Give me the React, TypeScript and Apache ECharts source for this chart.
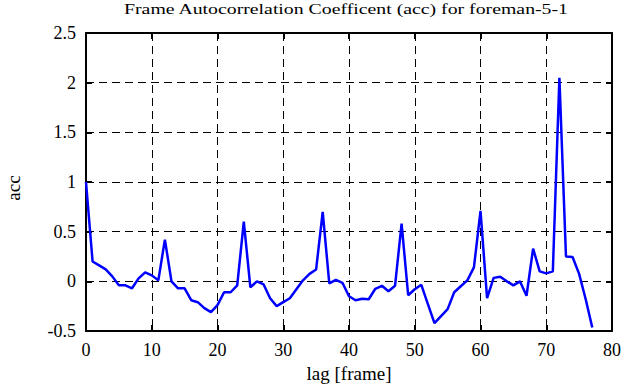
import React, { useEffect, useRef } from "react";
import * as echarts from "echarts";

const titleText = "Frame Autocorrelation Coefficent (acc) for foreman-5-1";
const xAxisName = "lag [frame]";
const yAxisName = "acc";
const xTicks = { min: 0, max: 80, interval: 10 };
const yTicks = { min: -0.5, max: 2.5, interval: 0.5 };

const lags: number[] = [
  0, 1, 2, 3, 4, 5, 6, 7, 8, 9, 10, 11, 12, 13, 14, 15, 16, 17, 18, 19,
  20, 21, 22, 23, 24, 25, 26, 27, 28, 29, 30, 31, 32, 33, 34, 35, 36, 37, 38, 39,
  40, 41, 42, 43, 44, 45, 46, 47, 48, 49, 50, 51, 52, 53, 54, 55, 56, 57, 58, 59,
  60, 61, 62, 63, 64, 65, 66, 67, 68, 69, 70, 71, 72, 73, 74, 75, 76, 77,
];
const acc: number[] = [
  1.0, 0.2, 0.16, 0.12, 0.05, -0.04, -0.04, -0.07, 0.03, 0.09,
  0.06, 0.01, 0.42, 0.0, -0.07, -0.07, -0.19, -0.21, -0.27, -0.31,
  -0.24, -0.11, -0.11, -0.04, 0.6, -0.06, 0.0, -0.03, -0.17, -0.25,
  -0.21, -0.17, -0.08, 0.01, 0.075, 0.12, 0.7, -0.02, 0.015, -0.015,
  -0.15, -0.19, -0.175, -0.18, -0.075, -0.045, -0.1, -0.045, 0.58, -0.14,
  -0.08, -0.035, -0.23, -0.42, -0.35, -0.28, -0.11, -0.05, 0.01, 0.14,
  0.71, -0.17, 0.035, 0.047, 0.0, -0.04, 0.0, -0.145, 0.33, 0.1,
  0.08, 0.1, 2.05, 0.25, 0.245, 0.075, -0.18, -0.465,
];

const FONT = "Liberation Serif";

export default function App() {
  const ref = useRef<HTMLDivElement>(null);
  useEffect(() => {
    if (!ref.current) return;
    const chart = echarts.init(ref.current, undefined, { renderer: "svg" });
    const axisLine = { show: true, onZero: false, lineStyle: { color: "#000", width: 2 } };
    const axisTick = { show: true, inside: true, length: 6, lineStyle: { color: "#000", width: 2 } };
    const splitLine = { show: true, lineStyle: { color: "#000", width: 1, type: [8, 5] as any } };
    const labelStyle = {
      fontFamily: FONT,
      fontSize: 18,
      color: "#000",
      margin: 10,
    };
    const nameStyle = {
      fontFamily: FONT,
      fontSize: 19,
      color: "#000",
    };
    chart.setOption({
      animation: false,
      backgroundColor: "#fff",
      textStyle: { fontFamily: FONT },
      grid: {
        left: 86,
        right: 18,
        top: 33,
        bottom: 56,
        containLabel: false,
        outerBoundsMode: "none",
      },
      graphic: [
        {
          type: "text",
          x: 346,
          y: 1,
          scaleX: 1.32,
          style: {
            text: titleText,
            fontFamily: FONT,
            fontSize: 15,
            fill: "#000",
            textAlign: "center",
            textVerticalAlign: "top",
          },
        },
        {
          type: "text",
          x: 13,
          y: 188,
          rotation: Math.PI / 2,
          style: {
            text: yAxisName,
            fontFamily: FONT,
            fontSize: 19,
            fill: "#000",
            textAlign: "center",
            textVerticalAlign: "middle",
          },
        },
      ],
      xAxis: [
        {
          type: "value",
          position: "bottom",
          ...xTicks,
          name: xAxisName,
          nameLocation: "middle",
          nameGap: 33,
          nameTextStyle: nameStyle,
          axisLine,
          axisTick,
          axisLabel: labelStyle,
          splitLine,
        },
        {
          type: "value",
          position: "top",
          ...xTicks,
          axisLine,
          axisTick,
          axisLabel: { show: false },
          splitLine: { show: false },
        },
      ],
      yAxis: [
        {
          type: "value",
          position: "left",
          ...yTicks,
          axisLine,
          axisTick,
          axisLabel: labelStyle,
          splitLine,
        },
        {
          type: "value",
          position: "right",
          ...yTicks,
          axisLine,
          axisTick,
          axisLabel: { show: false },
          splitLine: { show: false },
        },
      ],
      series: [
        {
          type: "line",
          xAxisIndex: 0,
          yAxisIndex: 0,
          data: lags.map((l, i) => [l, acc[i]]),
          showSymbol: false,
          symbol: "none",
          lineStyle: { color: "#0000ff", width: 2.5 },
          z: 3,
        },
      ],
    });
    return () => chart.dispose();
  }, []);
  return (
    <div
      ref={ref}
      style={{ position: "fixed", left: 0, top: 0, width: 630, height: 387 }}
    />
  );
}
